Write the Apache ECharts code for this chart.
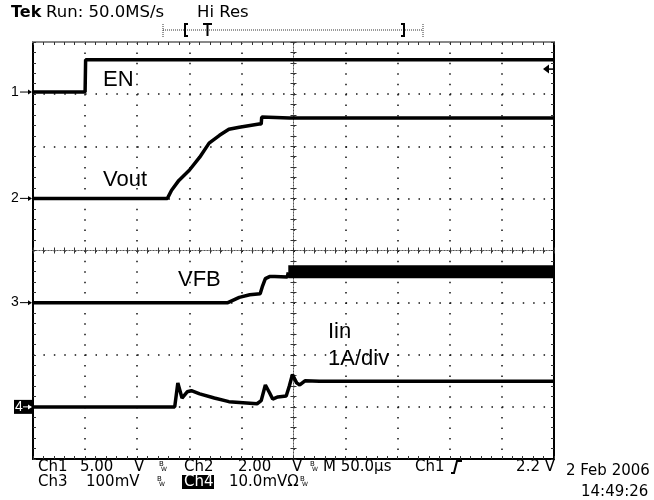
<!DOCTYPE html>
<html>
<head>
<meta charset="utf-8">
<script src="https://cdn.jsdelivr.net/npm/echarts@6/dist/echarts.min.js"></script>
<style>
html, body { margin: 0; padding: 0; background: #fff; }
#main { width: 654px; height: 500px; }
</style>
</head>
<body>
<div id="main"></div>
<script>
// time base: 50 us/div, trigger in the middle of the screen
const timeMin = -250, timeMax = 250, timeDiv = 50;
const divMin = -4, divMax = 4;

// channel ground markers (divisions from centre) and volts/div
const channelNames = ["1", "2", "3", "4"];
const channelOffsets = [3.04, 1, -1, -3];
const channelScales = [5, 2, 100, 1]; // V, V, mV, A per div
const triggerLevel = 2.2; // V on ch1

// Ch1 EN (V)
const enTime = [-250, -200, -199.5, 250];
const enVolts = [0, 0, 3.1, 3.1];

// Ch2 Vout (V)
const voutTime = [-250, -121, -117, -110, -100, -90, -81, -71, -62, -52, -33, -31, -30.5, -4, 250];
const voutVolts = [0, 0, 0.31, 0.69, 1.08, 1.58, 2.12, 2.42, 2.65, 2.73, 2.85, 2.85, 3.12, 3.08, 3.08];

// Ch3 VFB (mV)
const vfbTime = [-250, -63, -52, -42, -32, -30, -27, -23, -18, -6, -5];
const vfbMilli = [0, 0, 10, 15, 17, 30, 46, 50, 50, 49, 58];
// switching ripple band once the converter starts
const rippleTime = [-5, 250];
const rippleMilli = [59, 59];

// Ch4 Iin (A)
const iinTime = [-250, -114, -111, -107, -102, -98, -90, -76, -62, -35, -31, -27, -23, -20, -15, -7, -4, -1, 3, 6, 11, 25, 250];
const iinAmps = [0, 0, 0.46, 0.17, 0.29, 0.31, 0.25, 0.17, 0.10, 0.06, 0.12, 0.42, 0.27, 0.15, 0.19, 0.21, 0.40, 0.62, 0.46, 0.42, 0.50, 0.49, 0.49];

// labels
const traceLabels = [
  { text: "EN", x: 103, y: 80 },
  { text: "Vout", x: 103, y: 180 },
  { text: "VFB", x: 178, y: 280 },
  { text: "Iin", x: 328, y: 332 },
  { text: "1A/div", x: 328, y: 359 }
];

const toPts = (times, vals, ch) =>
  times.map((t, i) => [t, channelOffsets[ch] + vals[i] / channelScales[ch]]);

const chart = echarts.init(document.getElementById("main"), null, { renderer: "canvas" });

const tickStyle = { color: "#333", width: 1 };
const dots = { color: "#111", width: 1.5, type: [1.5, 8.92] };

function borderAxis(pos, color, width, isX, withSplit) {
  return {
    type: "value",
    position: pos,
    min: isX ? timeMin : divMin,
    max: isX ? timeMax : divMax,
    interval: isX ? timeDiv : 1,
    axisLine: { show: true, onZero: false, lineStyle: { color: color, width: width } },
    axisTick: { show: true, inside: true, length: 3, lineStyle: tickStyle },
    minorTick: { show: true, splitNumber: 5, length: 3, lineStyle: tickStyle },
    axisLabel: { show: false },
    splitLine: { show: !!withSplit, lineStyle: dots }
  };
}

function centreAxis(pos, isX, inside) {
  return {
    type: "value",
    position: pos,
    min: isX ? timeMin : divMin,
    max: isX ? timeMax : divMax,
    interval: isX ? timeDiv : 1,
    axisLine: { show: true, onZero: true, onZeroAxisIndex: 0,
      lineStyle: { color: "#555", width: 1, type: [1, 2] } },
    axisTick: { show: true, inside: inside, length: 3, lineStyle: tickStyle },
    minorTick: { show: true, splitNumber: 5, length: 3, lineStyle: tickStyle },
    axisLabel: { show: false },
    splitLine: { show: false }
  };
}

const trace = (name, data, width) => ({
  name: name,
  type: "line",
  data: data,
  showSymbol: false,
  symbol: "none",
  xAxisIndex: 0,
  yAxisIndex: 0,
  lineStyle: { color: "#000", width: width || 3.5 },
  z: 5,
  animation: false
});

chart.setOption({
  animation: false,
  backgroundColor: "#fff",
  grid: { left: 33, right: 100, top: 42, bottom: 41 },
  xAxis: [
    borderAxis("bottom", "#000", 2, true, true),
    borderAxis("top", "#888", 2, true, false),
    centreAxis("bottom", true, true),
    centreAxis("bottom", true, false)
  ],
  yAxis: [
    borderAxis("left", "#000", 2, false, true),
    borderAxis("right", "#000", 2, false, false),
    centreAxis("left", false, true),
    centreAxis("left", false, false)
  ],
  series: [
    trace("EN", toPts(enTime, enVolts, 0)),
    trace("Vout", toPts(voutTime, voutVolts, 1)),
    trace("VFB", toPts(vfbTime, vfbMilli, 2)),
    trace("VFB ripple", toPts(rippleTime, rippleMilli, 2), 13),
    trace("Iin", toPts(iinTime, iinAmps, 3))
  ]
});

// overlay texts and scope decorations
const g = [];
const txt = (text, x, y, size, opts) => {
  const o = Object.assign({ family: "DejaVu Sans", weight: "normal", fill: "#000", align: "left" }, opts || {});
  g.push({
    type: "text", x: x, y: y, z: 20,
    style: { text: text, fill: o.fill, font: o.weight + " " + size + "px '" + o.family + "'",
      textAlign: o.align, textVerticalAlign: "middle", verticalAlign: "middle" }
  });
};

traceLabels.forEach(l => txt(l.text, l.x, l.y, 22, { family: "Liberation Sans" }));

// header
txt("Tek", 11, 13, 16, { weight: "bold" });
txt("Run: 50.0MS/s", 46, 13, 16.5);
txt("Hi Res", 197, 13, 16.5);

// record / trigger bracket
g.push({ type: "line", shape: { x1: 163, y1: 30, x2: 423, y2: 30 }, style: { stroke: "#333", lineWidth: 1, lineDash: [1, 1] } });
[163, 423].forEach(x => g.push({ type: "line", shape: { x1: x, y1: 24, x2: x, y2: 37 }, style: { stroke: "#333", lineWidth: 1, lineDash: [1, 1] } }));
g.push({ type: "polyline", shape: { points: [[188, 24], [185, 24], [185, 36], [188, 36]] }, style: { stroke: "#000", lineWidth: 2, fill: null } });
g.push({ type: "polyline", shape: { points: [[401, 24], [404, 24], [404, 36], [401, 36]] }, style: { stroke: "#000", lineWidth: 2, fill: null } });
g.push({ type: "line", shape: { x1: 203, y1: 24, x2: 212, y2: 24 }, style: { stroke: "#000", lineWidth: 2 } });
g.push({ type: "line", shape: { x1: 207.5, y1: 24, x2: 207.5, y2: 36 }, style: { stroke: "#000", lineWidth: 2 } });

// channel ground markers
channelNames.forEach((n, i) => {
  const y = chart.convertToPixel({ yAxisIndex: 0 }, channelOffsets[i]);
  const inv = i === 3;
  if (inv) {
    g.push({ type: "rect", shape: { x: 14, y: y - 7, width: 19, height: 14 }, style: { fill: "#000" }, z: 19 });
  }
  const col = inv ? "#fff" : "#000";
  txt(n, inv ? 15 : 11, y, 14, { fill: col, family: "Liberation Sans" });
  g.push({ type: "line", shape: { x1: inv ? 23 : 20, y1: y, x2: 31, y2: y }, style: { stroke: col, lineWidth: 1 }, z: 20 });
  g.push({ type: "polygon", shape: { points: [[32, y], [28, y - 2.5], [28, y + 2.5]] }, style: { fill: col }, z: 20 });
});

// trigger level arrow on the right edge
const ty = chart.convertToPixel({ yAxisIndex: 0 }, channelOffsets[0] + triggerLevel / channelScales[0]);
g.push({ type: "polygon", shape: { points: [[543, ty], [549, ty - 4.5], [549, ty + 4.5]] }, style: { fill: "#000" }, z: 20 });
g.push({ type: "line", shape: { x1: 548, y1: ty, x2: 553, y2: ty }, style: { stroke: "#000", lineWidth: 1.5 }, z: 20 });

// bottom readout
const bw = (x, y) => { txt("B", x, y - 3, 7); txt("W", x + 2, y + 2, 6); };
const r1 = 467, r2 = 482;
txt("Ch1", 38, r1, 15);
txt("5.00", 80, r1, 15);
txt("V", 134, r1, 15);
bw(159, r1);
txt("Ch2", 184, r1, 15);
txt("2.00", 238, r1, 15);
txt("V", 292, r1, 15);
bw(310, r1);
txt("M 50.0\u00b5s", 323, r1, 15);
txt("Ch1", 415, r1, 15);
g.push({ type: "polyline", shape: { points: [[451, 473], [454, 473], [457, 461], [462, 461]] }, style: { stroke: "#000", lineWidth: 2, fill: null }, z: 20 });
txt("2.2 V", 555, r1, 15, { align: "right" });
txt("Ch3", 38, r2, 15);
txt("100mV", 86, r2, 15);
bw(157, r2);
g.push({ type: "rect", shape: { x: 182, y: 475, width: 32, height: 14 }, style: { fill: "#000" }, z: 19 });
txt("Ch4", 184, r2, 15, { fill: "#fff" });
txt("10.0mV\u03a9", 229, r2, 15);
bw(300, r2);
txt("2 Feb 2006", 566, 471, 15);
txt("14:49:26", 581, 492, 15);

chart.setOption({ graphic: g });
</script>
</body>
</html>
